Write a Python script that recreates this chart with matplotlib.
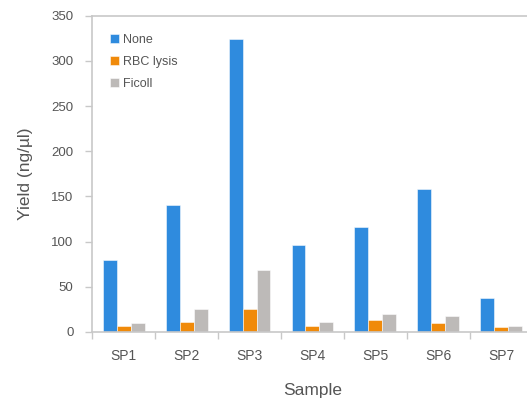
import numpy as np
import matplotlib.pyplot as plt

plt.rcParams['font.family'] = ['Liberation Sans', 'DejaVu Sans']

samples = ['SP1', 'SP2', 'SP3', 'SP4', 'SP5', 'SP6', 'SP7']
none_vals = [80, 140, 324, 96, 116, 158, 38]
rbc_vals = [7, 11.5, 25, 7, 13.5, 9.5, 5]
ficoll_vals = [9.5, 25, 69, 11.5, 20, 18, 7]

series = ['None', 'RBC lysis', 'Ficoll']
colors = ['#2f8bde', '#f08a0a', '#bdbab8']

fig = plt.figure(figsize=(5.27, 3.98), dpi=100)
# axes run a little past the right edge of the picture, as in the original
ax = fig.add_axes([92.3 / 527, 66 / 398, 440.3 / 527, 316.3 / 398])

x = np.arange(len(samples))
w = 0.222
for i, (vals, lab, c) in enumerate(zip([none_vals, rbc_vals, ficoll_vals], series, colors)):
    ax.bar(x + (i - 1) * w, vals, w, color=c, label=lab,
           edgecolor=(1, 1, 1, 0.6), linewidth=0.6)

ax.set_xlim(-0.5, len(samples) - 0.5)
ax.set_ylim(0, 350)
ax.set_yticks(range(0, 351, 50))
ax.set_xticks(x)
ax.set_xticklabels(samples)
ax.set_xticks(np.arange(-0.5, len(samples), 1), minor=True)

grey = '#c8c8c8'
for s in ['left', 'bottom', 'top']:
    ax.spines[s].set_color(grey)
    ax.spines[s].set_linewidth(1.2)
ax.spines['right'].set_visible(False)

ax.tick_params(axis='y', direction='out', length=5, width=1, color=grey,
               labelsize=9.5, labelcolor='#555555', pad=8.5)
ax.tick_params(axis='x', which='major', length=0, labelsize=10,
               labelcolor='#555555', pad=12)
ax.tick_params(axis='x', which='minor', direction='out', length=5, width=1, color=grey)

ax.set_ylabel('Yield (ng/µl)', fontsize=12.5, color='#555555', labelpad=13)
ax.set_xlabel('Sample', fontsize=12.5, color='#555555', labelpad=15)

ax.legend(loc='upper left', bbox_to_anchor=(17.7 / 440.3, 1 - 18 / 316.3),
          frameon=False, fontsize=9, borderpad=0, borderaxespad=0,
          handlelength=0.72, handleheight=0.72, handletextpad=0.35,
          labelspacing=0.8, labelcolor='#555555')

plt.savefig('out.png', dpi=100)
